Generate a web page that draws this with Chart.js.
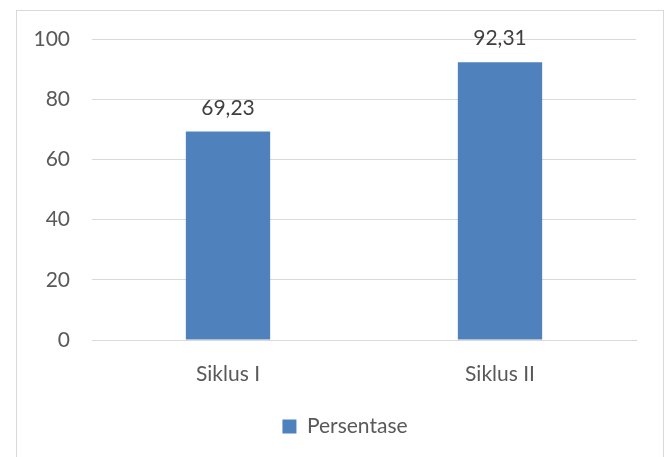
<!DOCTYPE html>
<html>
<head>
<meta charset="utf-8">
<script src="https://cdn.jsdelivr.net/npm/chart.js@4"></script>
<style>
  html, body { margin: 0; padding: 0; background: #fff; }
  #wrap { position: relative; width: 670px; height: 457px; overflow: hidden; }
  #frame { position: absolute; left: 16px; top: 10px; width: 648px; height: 470px; border: 1px solid #d9d9d9; box-sizing: border-box; }
  canvas { position: absolute; left: 0; top: 0; }
</style>
</head>
<body>
<div id="wrap">
  <div id="frame"></div>
  <canvas id="chart" width="670" height="457"></canvas>
</div>
<script>
// data
const categories = ['Siklus I', 'Siklus II'];
const persentase = [69.23, 92.31];
const seriesName = 'Persentase';
const yTicks = [0, 20, 40, 60, 80, 100];

const textColor = '#595959';
const fontFamily = 'Lato, "Open Sans", sans-serif';
const fontSize = 21;

// value labels above bars (comma decimal)
const valueLabels = {
  id: 'valueLabels',
  afterLayout(chart) {
    // legend sits a bit right of the canvas centre in the original
    chart.legend.left += 27;
    chart.legend.right += 27;
  },
  afterDatasetsDraw(chart) {
    const c = chart.ctx;
    const meta = chart.getDatasetMeta(0);
    c.save();
    c.fillStyle = '#404040';
    c.font = fontSize + 'px ' + fontFamily;
    c.textAlign = 'center';
    c.textBaseline = 'alphabetic';
    meta.data.forEach((bar, i) => {
      const txt = persentase[i].toFixed(2).replace('.', ',');
      c.fillText(txt, bar.x, bar.y - 17);
    });
    c.restore();
  }
};

const ctx = document.getElementById('chart').getContext('2d');
const chart = new Chart(ctx, {
  type: 'bar',
  data: {
    labels: categories,
    datasets: [{
      label: seriesName,
      data: persentase,
      backgroundColor: '#4f81bd',
      categoryPercentage: 1,
      barPercentage: 0.31
    }]
  },
  options: {
    responsive: false,
    animation: false,
    layout: { padding: { top: 39, right: 34, bottom: 10, left: 0 } },
    plugins: {
      legend: {
        position: 'bottom',
        labels: {
          color: textColor,
          font: { size: fontSize, family: fontFamily },
          boxWidth: 14,
          boxHeight: 14,
          padding: 10
        }
      },
      tooltip: { enabled: false }
    },
    scales: {
      x: {
        grid: { display: false },
        border: { display: true, color: '#d9d9d9' },
        ticks: { color: textColor, font: { size: fontSize, family: fontFamily }, padding: 14 },
        afterFit(scale) { scale.height = 66; }
      },
      y: {
        min: 0,
        max: 100,
        afterBuildTicks(scale) { scale.ticks = yTicks.map(v => ({ value: v })); },
        grid: { color: '#d9d9d9', drawTicks: false },
        border: { display: false },
        ticks: { color: textColor, font: { size: fontSize, family: fontFamily }, padding: 22 },
        afterFit(scale) { scale.width = 92; }
      }
    }
  },
  plugins: [valueLabels]
});
</script>
</body>
</html>
